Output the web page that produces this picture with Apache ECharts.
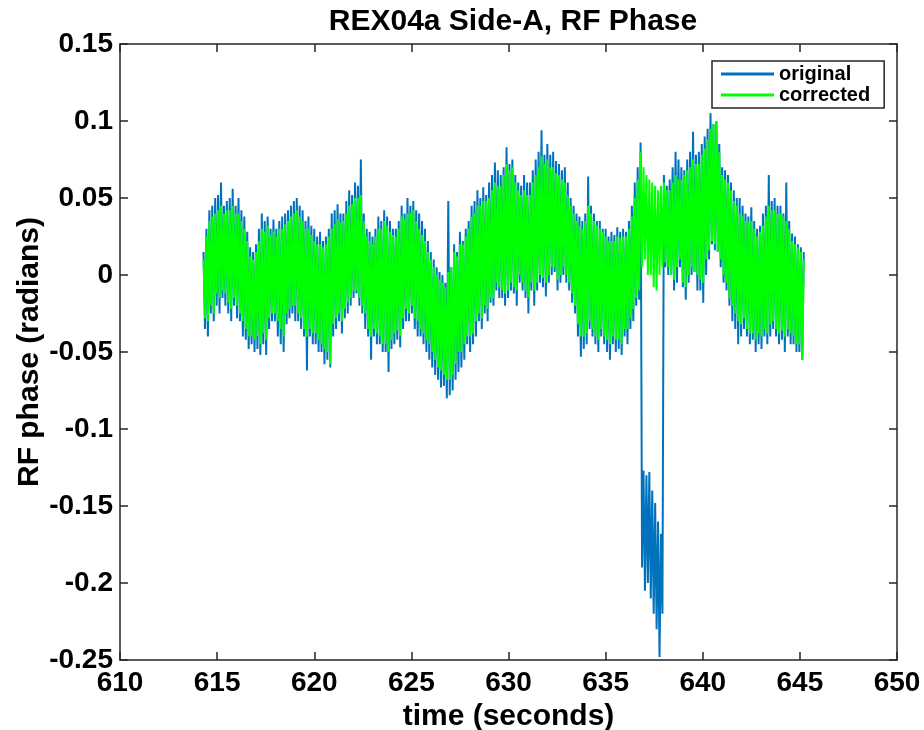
<!DOCTYPE html>
<html>
<head>
<meta charset="utf-8">
<script src="https://cdn.jsdelivr.net/npm/echarts@6/dist/echarts.min.js"></script>
<style>
html,body{margin:0;padding:0;background:#fff;}
#chart{width:924px;height:730px;}
</style>
</head>
<body>
<div id="chart"></div>
<script>
// ---- data ----
const TITLE = 'REX04a Side-A, RF Phase';
const X_NAME = 'time (seconds)';
const Y_NAME = 'RF phase (radians)';
const SERIES_NAMES = ['original', 'corrected'];
const X_TICKS = [610, 615, 620, 625, 630, 635, 640, 645, 650];
const Y_TICKS = [-0.25, -0.2, -0.15, -0.1, -0.05, 0, 0.05, 0.1, 0.15];
const T_START = 614.3;   // first sample time (s)
const T_STEP = 0.075;    // sample spacing (s)

const original = [
 0.015,-0.035,0.03,-0.04, 0.042,-0.025,0.045,-0.03, 0.05,-0.02,0.052,-0.025, 0.06,-0.015,0.045,-0.02,
 0.048,-0.025,0.05,-0.03, 0.056,-0.02,0.045,-0.028, 0.05,-0.03,0.042,-0.04, 0.038,-0.042,0.028,-0.048,
 0.018,-0.045,0.015,-0.05, 0.02,-0.048,0.03,-0.052, 0.04,-0.045,0.035,-0.052, 0.038,-0.035,0.03,-0.03,
 0.036,-0.03,0.03,-0.04, 0.035,-0.045,0.038,-0.05, 0.04,-0.032,0.042,-0.028, 0.045,-0.025,0.048,-0.03,
 0.05,-0.03,0.045,-0.035, 0.042,-0.04,0.035,-0.062, 0.038,-0.04,0.032,-0.045, 0.03,-0.045,0.025,-0.05,
 0.028,-0.05,0.022,-0.058, 0.025,-0.055,0.03,-0.06, 0.04,-0.04,0.042,-0.035, 0.046,-0.03,0.04,-0.038,
 0.04,-0.028,0.048,-0.025, 0.055,-0.02,0.052,-0.015, 0.06,-0.012,0.058,-0.02, 0.075,-0.025,0.04,-0.035,
 0.03,-0.04,0.028,-0.055, 0.025,-0.04,0.03,-0.045, 0.038,-0.045,0.035,-0.05, 0.042,-0.05,0.038,-0.063,
 0.035,-0.048,0.03,-0.045, 0.03,-0.042,0.035,-0.047, 0.045,-0.035,0.04,-0.03, 0.05,-0.03,0.045,-0.025,
 0.048,-0.035,0.042,-0.04, 0.04,-0.04,0.035,-0.045, 0.03,-0.05,0.022,-0.055, 0.015,-0.06,0.01,-0.065,
 0.005,-0.068,0.002,-0.073, 0.0,-0.072,-0.005,-0.08, 0.048,-0.078,0.005,-0.075, 0.02,-0.068,0.015,-0.063,
 0.028,-0.06,0.022,-0.055, 0.03,-0.045,0.035,-0.05, 0.045,-0.045,0.048,-0.04, 0.055,-0.03,0.05,-0.035,
 0.057,-0.025,0.052,-0.03, 0.06,-0.018,0.065,-0.02, 0.073,-0.01,0.068,-0.015, 0.065,-0.015,0.07,-0.02,
 0.083,-0.015,0.072,-0.01, 0.075,-0.012,0.065,-0.02, 0.06,-0.005,0.058,-0.01, 0.065,-0.015,0.06,-0.025,
 0.06,-0.01,0.068,-0.02, 0.075,-0.01,0.08,-0.005, 0.094,-0.008,0.078,-0.014, 0.085,-0.005,0.078,0.0,
 0.08,0.002,0.074,-0.01, 0.072,-0.005,0.068,0.0, 0.07,-0.005,0.06,-0.01, 0.05,-0.018,0.045,-0.025,
 0.04,-0.04,0.038,-0.053, 0.035,-0.048,0.04,-0.045, 0.064,-0.035,0.045,-0.04, 0.04,-0.045,0.035,-0.05,
 0.035,-0.04,0.03,-0.045, 0.03,-0.05,0.025,-0.055, 0.028,-0.045,0.026,-0.05, 0.031,-0.048,0.028,-0.052,
 0.03,-0.04,0.028,-0.045, 0.035,-0.035,0.045,-0.03, 0.06,-0.02,0.07,-0.016,
 0.086,-0.19,-0.127,-0.205, -0.13,-0.2,-0.128,-0.21, -0.14,-0.22,-0.148,-0.23, -0.16,-0.248,-0.168,-0.22,
 0.065,0.005,0.058,0.0, 0.062,0.0,0.07,-0.01, 0.08,-0.005,0.075,0.005, 0.07,-0.008,0.068,-0.016,
 0.075,-0.005,0.08,0.0, 0.093,0.002,0.078,-0.01, 0.08,-0.01,0.085,-0.018, 0.09,0.0,0.095,0.01,
 0.105,0.02,0.098,0.016, 0.1,0.015,0.085,0.005, 0.07,-0.005,0.068,-0.01, 0.065,-0.02,0.06,-0.03,
 0.055,-0.035,0.05,-0.045, 0.05,-0.04,0.045,-0.035, 0.04,-0.04,0.038,-0.045, 0.044,-0.042,0.035,-0.05,
 0.03,-0.045,0.032,-0.048, 0.04,-0.04,0.045,-0.045, 0.065,-0.04,0.048,-0.035, 0.05,-0.04,0.045,-0.045,
 0.045,-0.042,0.04,-0.05, 0.06,-0.04,0.035,-0.045, 0.027,-0.045,0.025,-0.05, 0.02,-0.05,0.018,-0.055,
 0.015
];

const corrected = [
 0.01,-0.028,0.025,-0.03, 0.035,-0.02,0.038,-0.025, 0.04,-0.012,0.042,-0.015, 0.045,-0.01,0.04,-0.012,
 0.042,-0.018,0.042,-0.022, 0.045,-0.015,0.04,-0.02, 0.04,-0.025,0.035,-0.03, 0.03,-0.035,0.022,-0.04,
 0.012,-0.04,0.01,-0.042, 0.015,-0.04,0.022,-0.045, 0.03,-0.038,0.028,-0.042, 0.032,-0.028,0.026,-0.025,
 0.028,-0.025,0.025,-0.03, 0.03,-0.035,0.03,-0.04, 0.033,-0.025,0.035,-0.022, 0.038,-0.02,0.04,-0.02,
 0.042,-0.025,0.038,-0.028, 0.035,-0.035,0.03,-0.04, 0.03,-0.035,0.026,-0.038, 0.022,-0.038,0.02,-0.042,
 0.02,-0.045,0.018,-0.048, 0.02,-0.05,0.025,-0.058, 0.03,-0.032,0.033,-0.028, 0.036,-0.025,0.034,-0.03,
 0.035,-0.022,0.04,-0.018, 0.045,-0.015,0.046,-0.01, 0.05,-0.01,0.05,-0.015, 0.052,-0.02,0.035,-0.025,
 0.025,-0.035,0.022,-0.04, 0.02,-0.035,0.025,-0.038, 0.03,-0.04,0.03,-0.045, 0.035,-0.045,0.032,-0.05,
 0.028,-0.042,0.026,-0.038, 0.025,-0.036,0.03,-0.04, 0.038,-0.028,0.036,-0.022, 0.04,-0.025,0.04,-0.02,
 0.042,-0.028,0.035,-0.03, 0.03,-0.035,0.026,-0.038, 0.022,-0.042,0.015,-0.045, 0.01,-0.05,0.005,-0.055,
 0.0,-0.06,-0.003,-0.062, -0.005,-0.065,-0.008,-0.068, 0.002,-0.068,0.005,-0.065, 0.015,-0.058,0.012,-0.05,
 0.02,-0.05,0.02,-0.045, 0.025,-0.04,0.03,-0.04, 0.038,-0.038,0.04,-0.03, 0.045,-0.025,0.045,-0.028,
 0.048,-0.02,0.048,-0.022, 0.05,-0.015,0.055,-0.015, 0.06,-0.005,0.058,-0.008, 0.058,-0.01,0.065,-0.012,
 0.072,-0.01,0.068,-0.005, 0.07,-0.008,0.06,-0.01, 0.055,0.0,0.052,-0.005, 0.055,-0.01,0.052,-0.015,
 0.052,-0.005,0.06,-0.01, 0.065,-0.005,0.07,0.0, 0.077,-0.002,0.072,-0.005, 0.075,0.0,0.07,0.005,
 0.07,0.005,0.066,-0.003, 0.065,0.0,0.062,0.005, 0.06,0.0,0.052,-0.005, 0.045,-0.012,0.04,-0.02,
 0.035,-0.032,0.032,-0.04, 0.03,-0.04,0.035,-0.038, 0.045,-0.03,0.04,-0.035, 0.035,-0.04,0.032,-0.042,
 0.03,-0.035,0.028,-0.04, 0.025,-0.042,0.022,-0.045, 0.022,-0.04,0.022,-0.042, 0.025,-0.042,0.024,-0.045,
 0.025,-0.035,0.025,-0.035, 0.03,-0.028,0.038,-0.022, 0.05,-0.015,0.062,-0.01,
 0.08,0.005,0.07,0.01, 0.065,0.0,0.062,0.0, 0.06,-0.008,0.058,-0.01, 0.055,0.0,0.058,0.005,
 0.06,0.008,0.055,0.005, 0.055,0.0,0.06,-0.003, 0.065,0.005,0.062,0.01, 0.062,-0.005,0.065,-0.008,
 0.068,0.0,0.07,0.005, 0.075,0.002,0.072,0.0, 0.072,-0.003,0.078,-0.005, 0.082,0.01,0.088,0.016,
 0.095,0.022,0.098,0.02, 0.1,0.015,0.08,0.01, 0.065,0.0,0.062,-0.005, 0.06,-0.015,0.055,-0.02,
 0.048,-0.025,0.045,-0.03, 0.04,-0.032,0.038,-0.028, 0.035,-0.035,0.035,-0.038, 0.035,-0.038,0.03,-0.042,
 0.025,-0.038,0.028,-0.04, 0.032,-0.035,0.038,-0.038, 0.045,-0.032,0.042,-0.03, 0.042,-0.035,0.04,-0.038,
 0.04,-0.036,0.038,-0.04, 0.035,-0.035,0.03,-0.038, 0.022,-0.04,0.02,-0.045, 0.018,-0.045,0.015,-0.055,
 0.01
];

// ---- chart ----
const FONT = 'Liberation Sans, Arial, Helvetica, sans-serif';
const AXIS_COLOR = '#262626';
const pairs = arr => arr.map((v, i) => [T_START + T_STEP * i, v]);
const fmtY = v => String(+v.toFixed(2));

const chart = echarts.init(document.getElementById('chart'), null, {renderer: 'canvas'});
const xCommon = {
  type: 'value', min: X_TICKS[0], max: X_TICKS[X_TICKS.length - 1],
  interval: X_TICKS[1] - X_TICKS[0],
  axisLine: {show: true, onZero: false, lineStyle: {color: AXIS_COLOR, width: 1.5}},
  axisTick: {show: true, inside: true, length: 8, lineStyle: {color: AXIS_COLOR, width: 1.5}},
  splitLine: {show: false}
};
const yCommon = {
  type: 'value', min: Y_TICKS[0], max: Y_TICKS[Y_TICKS.length - 1],
  interval: 0.05,
  axisLine: {show: true, onZero: false, lineStyle: {color: AXIS_COLOR, width: 1.5}},
  axisTick: {show: true, inside: true, length: 8, lineStyle: {color: AXIS_COLOR, width: 1.5}},
  splitLine: {show: false}
};

chart.setOption({
  animation: false,
  backgroundColor: '#ffffff',
  title: {
    text: TITLE, left: 508, top: 2, textAlign: 'center',
    textStyle: {fontFamily: FONT, fontWeight: 'bold', fontSize: 30, color: '#000'}
  },
  legend: {
    data: SERIES_NAMES,
    orient: 'vertical', left: 712, top: 61,
    padding: [3, 14, 3, 9],
    itemGap: 1,
    itemWidth: 53, itemHeight: 3,
    icon: 'rect',
    backgroundColor: '#fff',
    borderColor: AXIS_COLOR, borderWidth: 1.5,
    textStyle: {fontFamily: FONT, fontWeight: 'bold', fontSize: 20, color: '#000'}
  },
  grid: {left: 120, right: 27, top: 44, bottom: 70, containLabel: false, outerBoundsMode: 'none'},
  xAxis: [
    Object.assign({}, xCommon, {
      position: 'bottom',
      name: X_NAME, nameLocation: 'middle', nameGap: 38,
      nameTextStyle: {fontFamily: FONT, fontWeight: 'bold', fontSize: 30, color: '#000'},
      axisLabel: {show: true, margin: 9, fontFamily: FONT, fontWeight: 'bold', fontSize: 28, color: '#000'}
    }),
    Object.assign({}, xCommon, {position: 'top', axisLabel: {show: false}})
  ],
  yAxis: [
    Object.assign({}, yCommon, {
      position: 'left',
      name: Y_NAME, nameLocation: 'middle', nameGap: 75, nameRotate: 90,
      nameMoveOverlap: false,
      nameTextStyle: {fontFamily: FONT, fontWeight: 'bold', fontSize: 30, color: '#000'},
      axisLabel: {show: true, margin: 7, fontFamily: FONT, fontWeight: 'bold', fontSize: 28, color: '#000', formatter: fmtY}
    }),
    Object.assign({}, yCommon, {position: 'right', axisLabel: {show: false}})
  ],
  series: [
    {
      name: SERIES_NAMES[0], type: 'line', xAxisIndex: 0, yAxisIndex: 0,
      data: pairs(original), showSymbol: false, symbol: 'none', sampling: null,
      color: '#0072BD', lineStyle: {color: '#0072BD', width: 2}, z: 2
    },
    {
      name: SERIES_NAMES[1], type: 'line', xAxisIndex: 0, yAxisIndex: 0,
      data: pairs(corrected), showSymbol: false, symbol: 'none', sampling: null,
      color: '#00FF00', lineStyle: {color: '#00FF00', width: 2}, z: 3
    }
  ]
});
</script>
</body>
</html>
